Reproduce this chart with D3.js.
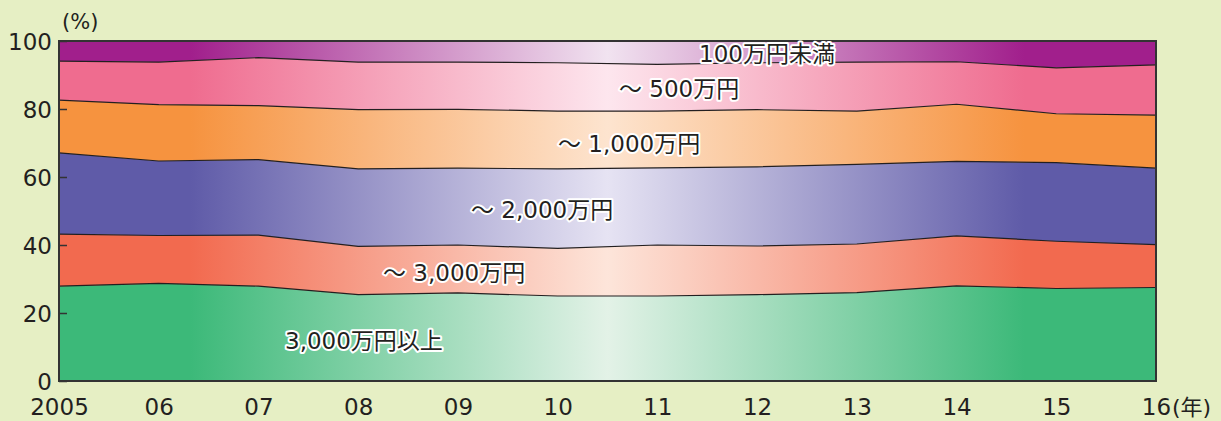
<!DOCTYPE html>
<html><head><meta charset="utf-8">
<script src="https://cdn.jsdelivr.net/npm/d3@7"></script>
<style>
html,body{margin:0;padding:0;background:#e6efc4;}
svg{display:block;}
text{font-family:"DejaVu Sans","Noto Sans CJK JP",sans-serif;}
</style></head><body>
<svg id="c" width="1221" height="421"></svg>
<script>
const years = ["2005","06","07","08","09","10","11","12","13","14","15","16"];
const over3000 = [27.9,28.7,27.9,25.4,25.9,25.0,25.0,25.4,26.0,28.0,27.2,27.5];
const to3000   = [15.3,14.1,15.0,14.2,14.1,14.0,15.0,14.3,14.3,14.7,13.9,12.6];
const to2000   = [23.9,21.9,22.2,22.8,22.6,23.4,22.7,23.3,23.4,21.9,23.1,22.5];
const to1000   = [15.5,16.6,15.9,17.4,17.3,17.0,16.7,16.8,15.7,16.8,14.4,15.6];
const to500    = [11.5,12.5,14.1,14.0,13.9,14.2,13.7,13.8,14.4,12.5,13.5,14.8];
const under100 = [5.9,6.2,4.9,6.2,6.2,6.4,6.9,6.4,6.2,6.1,7.9,7.0];
const seriesNames = ["3,000万円以上","～ 3,000万円","～ 2,000万円","～ 1,000万円","～ 500万円","100万円未満"];
const yTicks = [0,20,40,60,80,100];

const seriesVals = [over3000,to3000,to2000,to1000,to500,under100];
const fullCol  = ["#3cb979","#f26a4f","#5f5ba8","#f6933f","#ef6c8f","#a11f8c"];
const lightCol = ["#e3f2e7","#fde5da","#e6e3f3","#fde4cf","#fde6ee","#f1e3f0"];
const labelPos = [[285,349],[383,281],[471,218],[558,152],[619,97],[699,62]];

const table = years.map((y,i)=>{const o={year:y}; seriesNames.forEach((k,j)=>o[k]=seriesVals[j][i]); return o;});

const svg = d3.select("#c");
const L=59,R=1156,T=41,B=381;
const x = d3.scalePoint().domain(years).range([L,R]);
const y = d3.scaleLinear().domain([0,100]).range([B,T]);

const stack = d3.stack().keys(seriesNames)(table);
const defs = svg.append("defs");
stack.forEach((s,i)=>{
  const g = defs.append("linearGradient").attr("id","g"+i).attr("gradientUnits","userSpaceOnUse")
    .attr("x1",L).attr("x2",R).attr("y1",0).attr("y2",0);
  [[0,fullCol[i]],[0.12,fullCol[i]],[0.5,lightCol[i]],[0.88,fullCol[i]],[1,fullCol[i]]].forEach(([o,c])=>
    g.append("stop").attr("offset",o).attr("stop-color",c));
});
const area = d3.area().x(d=>x(d.data.year)).y0(d=>y(d[0])).y1(d=>y(Math.min(100,d[1])));
svg.append("g").selectAll("path").data(stack).join("path")
  .attr("d",area).attr("fill",(d,i)=>`url(#g${i})`);
const line = d3.line().x(d=>x(d.data.year)).y(d=>y(d[1]));
svg.append("g").selectAll("path").data(stack.slice(0,5)).join("path")
  .attr("d",line).attr("fill","none").attr("stroke","#231f20").attr("stroke-width",1.2);

// frame
svg.append("rect").attr("x",L).attr("y",T).attr("width",R-L).attr("height",B-T)
  .attr("fill","none").attr("stroke","#333").attr("stroke-width",2);

// y axis
const ya = svg.append("g").attr("transform",`translate(${L},0)`)
  .call(d3.axisLeft(y).tickValues(yTicks).tickSize(-8).tickPadding(7).tickFormat(d3.format("d")));
ya.select(".domain").remove();
ya.selectAll("line").attr("stroke","#333").attr("stroke-width",1.5);
ya.selectAll("text").attr("font-size",23).attr("fill","#231f20").attr("font-family","DejaVu Sans, sans-serif").attr("dy","0.36em");

// x axis
const xa = svg.append("g").attr("transform",`translate(0,${B})`)
  .call(d3.axisBottom(x).tickSize(0));
xa.select(".domain").remove();
xa.selectAll("text").attr("font-size",23).attr("fill","#231f20").attr("font-family","DejaVu Sans, sans-serif").attr("y",34).attr("dy",0);

svg.append("text").attr("x",R+16).attr("y",415).attr("font-size",22).attr("fill","#231f20")
  .text("(年)");
svg.append("text").attr("x",62).attr("y",29).attr("font-size",21).attr("fill","#231f20").text("(%)");

// series labels
svg.append("g").selectAll("text").data(seriesNames).join("text")
  .attr("x",(d,i)=>labelPos[i][0]).attr("y",(d,i)=>labelPos[i][1])
  .attr("font-size",23).attr("fill","#231f20")
  .attr("stroke","#fff").attr("stroke-width",4).attr("stroke-linejoin","round").attr("paint-order","stroke")
  .text(d=>d);
</script></body></html>
